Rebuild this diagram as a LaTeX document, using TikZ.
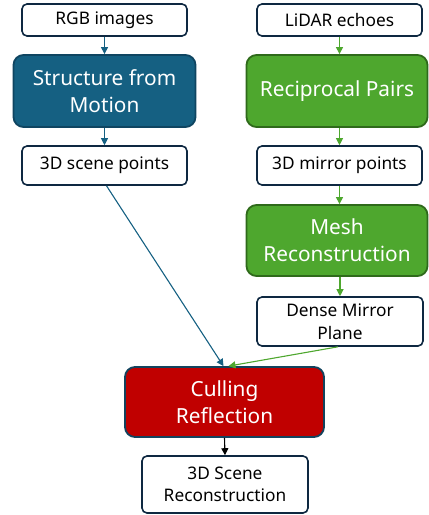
\documentclass[tikz,border=0pt]{standalone}
\usepackage{fontspec}
\setmainfont{Noto Sans}
\usetikzlibrary{arrows.meta}
\definecolor{sfmfill}{HTML}{156082}
\definecolor{sfmedge}{HTML}{0F4561}
\definecolor{grnfill}{HTML}{4EA72E}
\definecolor{grnedge}{HTML}{2F6A1B}
\definecolor{redfill}{HTML}{C00000}
\definecolor{redfedge}{HTML}{12435E}
\definecolor{wedge}{HTML}{0E2841}
\tikzset{
  wbox/.style={draw=wedge, line width=1.6pt, fill=white, rounded corners=5pt,
    align=center, font=\fontsize{17.3}{22.5}\selectfont, inner sep=0pt},
  cbox/.style={line width=1.8pt, rounded corners=10pt, text=white,
    align=center, font=\fontsize{20.8}{27}\selectfont, inner sep=0pt},
  barrow/.style={draw=sfmfill, line width=1.1pt, -{Triangle[length=7pt,width=7pt]}},
  garrow/.style={draw=grnfill, line width=1.1pt, -{Triangle[length=7pt,width=7pt]}},
  karrow/.style={draw=black, line width=1.1pt, -{Triangle[length=7pt,width=7pt]}},
}
\begin{document}
\begin{tikzpicture}[x=1pt,y=-1pt]
\useasboundingbox (0,0) rectangle (429,515);
\node[wbox, minimum width=165pt, minimum height=32pt] (rgb) at (104.5,20) {RGB images};
\node[cbox, draw=sfmedge, fill=sfmfill, minimum width=182pt, minimum height=72pt] (sfm) at (104.5,91) {Structure from\\Motion};
\node[wbox, minimum width=165pt, minimum height=39pt] (scene) at (104.5,165.5) {3D scene points};
\node[wbox, minimum width=165pt, minimum height=32pt] (lidar) at (339.5,20) {LiDAR echoes};
\node[cbox, draw=grnedge, fill=grnfill, minimum width=181pt, minimum height=72pt] (recip) at (337,91) {Reciprocal Pairs};
\node[wbox, minimum width=165pt, minimum height=39pt] (mirror) at (339.5,165.5) {3D mirror points};
\node[cbox, draw=grnedge, fill=grnfill, minimum width=181pt, minimum height=71pt] (mesh) at (337,240.5) {Mesh\\Reconstruction};
\node[wbox, minimum width=166pt, minimum height=49pt] (dense) at (340,321.5) {Dense Mirror\\Plane};
\node[cbox, draw=redfedge, fill=redfill, minimum width=199pt, minimum height=70pt] (cull) at (224.5,402) {Culling\\Reflection};
\node[wbox, minimum width=166pt, minimum height=57pt] (recon) at (225,484.5) {3D Scene\\Reconstruction};
\draw[barrow] (rgb.south) -- (sfm.north);
\draw[barrow] (sfm.south) -- (scene.south |- scene.north);
\draw[garrow] (lidar.south) -- (lidar.south |- recip.north);
\draw[garrow] (lidar.south |- recip.south) -- (mirror.north);
\draw[garrow] (mirror.south) -- (mirror.south |- mesh.north);
\draw[garrow] (dense.north |- mesh.south) -- (dense.north);
\draw[barrow] ([xshift=2pt]scene.south) -- ([xshift=-1pt]cull.north);
\draw[garrow] ([xshift=-2pt]dense.south) -- ([xshift=4pt]cull.north);
\draw[karrow] (cull.south) -- (recon.north);
\end{tikzpicture}
\end{document}
